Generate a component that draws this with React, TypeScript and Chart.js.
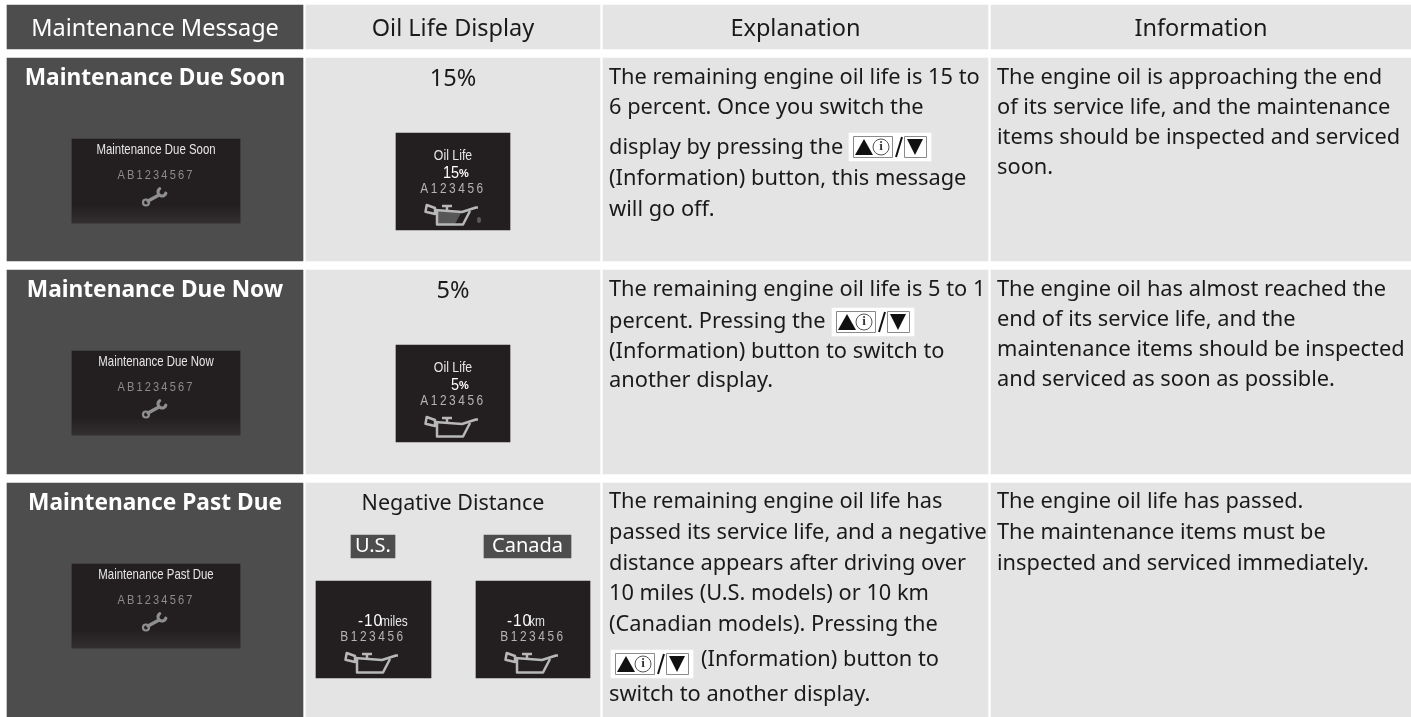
import React, { useEffect, useRef } from "react";
import { Chart, registerables } from "chart.js";

Chart.register(...registerables);

// ---- content ----
const headers = ["Maintenance Message", "Oil Life Display", "Explanation", "Information"];
const messages = ["Maintenance Due Soon", "Maintenance Due Now", "Maintenance Past Due"];
const oilDisplays = ["15%", "5%", "Negative Distance"];
const screenCode = "AB1234567";
const regionTags = ["U.S.", "Canada"];
const oilLifeTitle = "Oil Life";
const oilValues = ["15", "5"];
const negativeReadings = [["-10", "miles"], ["-10", "km"]];
const oilCodes = ["A123456", "A123456", "B123456", "B123456"];
const explanationLines = [
  ["The remaining engine oil life is 15 to", "6 percent. Once you switch the", "display by pressing the", "(Information) button, this message", "will go off."],
  ["The remaining engine oil life is 5 to 1", "percent. Pressing the", "(Information) button to switch to", "another display."],
  ["The remaining engine oil life has", "passed its service life, and a negative", "distance appears after driving over", "10 miles (U.S. models) or 10 km", "(Canadian models). Pressing the", "(Information) button to", "switch to another display."],
];
const informationLines = [
  ["The engine oil is approaching the end", "of its service life, and the maintenance", "items should be inspected and serviced", "soon."],
  ["The engine oil has almost reached the", "end of its service life, and the", "maintenance items should be inspected", "and serviced as soon as possible."],
  ["The engine oil life has passed.", "The maintenance items must be", "inspected and serviced immediately."],
];

// ---- layout (page pixels, read through the scales) ----
const W = 1411, H = 717;
const columns: [number, number][] = [[7, 303], [306, 600], [603, 988], [991, 1411]];
const rows: [number, number][] = [[5, 49], [58, 261], [270, 474], [483, 717]];
const explanationY = [[78, 108, 148, 179, 210], [290, 322, 352, 381], [502, 533, 564, 594, 625, 660, 695]];
const informationY = [[78, 108, 138, 168], [290, 320, 350, 380], [502, 533, 564]];
const messageScreens: [number, number][] = [[139, 223], [351, 435], [564, 648]];
const oilScreens: [number, number, number, number][] = [[396, 510, 133, 230], [396, 510, 345, 442], [316, 431, 581, 678], [476, 590, 581, 678]];
const tagBoxes: [number, number, number, number][] = [[351, 395, 535, 558], [484, 571, 535, 558]];
const buttons: [number, number][] = [[849, 133], [832, 308], [611, 650]];
const negativeOffsets = [[42, 64], [31, 53]];
const BTN_W = 82, BTN_H = 28;

const DARK = "#4d4d4d", LIGHT = "#e4e4e4", SCREEN = "#231f20";
const BODY_FONT = '"Noto Sans"';
const SCREEN_FONT = '"Liberation Sans"';

function rectSet(x0: number, x1: number, spans: [number, number][], color: string, order: number) {
  return {
    type: "bar" as const,
    data: spans.map((s) => ({ x: (x0 + x1) / 2, y: s })),
    backgroundColor: color,
    barThickness: x1 - x0,
    grouped: false,
    borderWidth: 0,
    order,
  };
}

const overlay = {
  id: "tableOverlay",
  afterDatasetsDraw(chart: any) {
    const ctx: CanvasRenderingContext2D = chart.ctx;
    const X = (v: number) => chart.scales.x.getPixelForValue(v);
    const Y = (v: number) => chart.scales.y.getPixelForValue(v);
    const text = (s: string, x: number, y: number, font: string, color: string, align: CanvasTextAlign = "left", spacing = "0px", squeeze = 1) => {
      ctx.font = font;
      ctx.fillStyle = color;
      ctx.textAlign = align;
      ctx.textBaseline = "middle";
      (ctx as any).letterSpacing = spacing;
      if (squeeze < 1) ctx.fillText(s, X(x), Y(y), ctx.measureText(s).width * squeeze);
      else ctx.fillText(s, X(x), Y(y));
      (ctx as any).letterSpacing = "0px";
    };
    const poly = (pts: number[][], ox: number, oy: number, close: boolean) => {
      ctx.beginPath();
      pts.forEach((p, i) => (i ? ctx.lineTo(X(ox + p[0]), Y(oy + p[1])) : ctx.moveTo(X(ox + p[0]), Y(oy + p[1]))));
      if (close) ctx.closePath();
    };
    ctx.save();

    // headers
    headers.forEach((h, i) => {
      const [a, b] = columns[i];
      text(h, (a + b) / 2, 29, `23.5px ${BODY_FONT}`, i === 0 ? "#ffffff" : "#1a1a1a", "center");
    });

    // message column
    messages.forEach((m, i) => {
      text(m, 155, rows[i + 1][0] + 21, `bold 22.7px ${BODY_FONT}`, "#ffffff", "center");
      const [t, b] = messageScreens[i];
      const g = ctx.createLinearGradient(0, Y(b - 18), 0, Y(b));
      g.addColorStop(0, "rgba(255,255,255,0)");
      g.addColorStop(1, "rgba(255,255,255,0.07)");
      ctx.fillStyle = g;
      ctx.fillRect(X(72), Y(b - 18), X(240) - X(72), Y(b) - Y(b - 18));
      text(m, 156, t + 11, `15px ${SCREEN_FONT}`, "#e6e6e6", "center", "0px", 0.76);
      text(screenCode, 156, t + 36, `13px ${SCREEN_FONT}`, "#8c8c8c", "center", "2.5px", 0.85);
      // wrench
      ctx.strokeStyle = "#8f8f8f";
      ctx.lineCap = "round";
      ctx.lineWidth = 3.4;
      ctx.beginPath();
      ctx.moveTo(X(148), Y(t + 62));
      ctx.lineTo(X(159), Y(t + 56));
      ctx.stroke();
      ctx.lineWidth = 2.2;
      ctx.beginPath();
      ctx.arc(X(146), Y(t + 63.5), 3, 0, Math.PI * 2);
      ctx.stroke();
      ctx.lineWidth = 3.2;
      ctx.beginPath();
      ctx.arc(X(162), Y(t + 53), 4, 0.1 * Math.PI, 1.3 * Math.PI);
      ctx.stroke();
      ctx.lineCap = "butt";
    });

    // oil column
    oilDisplays.forEach((d, i) => {
      text(d, 453, rows[i + 1][0] + 21, `${i < 2 ? 23.5 : 21.5}px ${BODY_FONT}`, "#1a1a1a", "center");
    });
    regionTags.forEach((t, i) => {
      const [a, b, c, e] = tagBoxes[i];
      text(t, (a + b) / 2, (c + e) / 2, `20px ${BODY_FONT}`, "#ffffff", "center");
    });
    oilScreens.forEach(([a, , t], i) => {
      if (i < 2) {
        text(oilLifeTitle, a + 57, t + 23, `15px ${SCREEN_FONT}`, "#e6e6e6", "center", "0px", 0.82);
        text(oilValues[i], a + 63, t + 40, `17px ${SCREEN_FONT}`, "#ffffff", "right", "0px", 0.85);
        text("%", a + 63, t + 41, `bold 11px ${SCREEN_FONT}`, "#ffffff", "left");
      } else {
        const [n, u] = negativeReadings[i - 2];
        const [nx, ux] = negativeOffsets[i - 2];
        text(n, a + nx, t + 40, `17px ${SCREEN_FONT}`, "#ffffff", "left", "1px", 0.9);
        text(u, a + ux, t + 41, `14px ${SCREEN_FONT}`, "#e6e6e6", "left", "0px", 0.85);
      }
      text(oilCodes[i], a + 57, t + 56, `14px ${SCREEN_FONT}`, "#b4b4b4", "center", "3px", 0.85);
      // oil can
      const ox = a + 19, oy = t + 62;
      if (i === 0) {
        ctx.fillStyle = "#575757";
        poly([[22, 16], [47, 16], [40, 29], [22, 29]], ox, oy, true);
        ctx.fill();
        ctx.fillStyle = "#5a5a5a";
        ctx.beginPath();
        ctx.ellipse(X(ox + 64), Y(oy + 25), 2, 3, 0, 0, Math.PI * 2);
        ctx.fill();
      }
      ctx.strokeStyle = "#b8b8b8";
      ctx.lineWidth = 2.5;
      ctx.lineJoin = "round";
      poly([[11.7, 10], [20, 13], [20, 19], [10.5, 16.7]], ox, oy, true);
      ctx.stroke();
      poly([[27, 11], [37, 11]], ox, oy, false);
      ctx.stroke();
      poly([[32, 11], [32, 15]], ox, oy, false);
      ctx.stroke();
      poly([[20, 15], [47, 17], [61, 12.5], [63, 12.5]], ox, oy, false);
      ctx.stroke();
      poly([[22, 16], [22, 29.5], [48, 29.5], [55, 16]], ox, oy, false);
      ctx.stroke();
    });

    // explanation and information text
    const body = `21.8px ${BODY_FONT}`;
    explanationLines.forEach((ls, r) =>
      ls.forEach((l, j) => text(l, r === 2 && j === 5 ? 701 : 609, explanationY[r][j], body, "#1a1a1a"))
    );
    informationLines.forEach((ls, r) =>
      ls.forEach((l, j) => text(l, 997, informationY[r][j], body, "#1a1a1a"))
    );
    // inline button symbols (white plate is a bar)
    buttons.forEach(([bx, by]) => {
      ctx.strokeStyle = "#8a8a8a";
      ctx.lineWidth = 1;
      ctx.strokeRect(X(bx + 4) + 0.5, Y(by + 3) + 0.5, 39, 21);
      ctx.strokeRect(X(bx + 55) + 0.5, Y(by + 3) + 0.5, 22, 21);
      ctx.fillStyle = "#111111";
      poly([[15, 6], [24, 22], [6, 22]], bx, by, true);
      ctx.fill();
      poly([[58, 6], [74, 6], [66, 22]], bx, by, true);
      ctx.fill();
      ctx.strokeStyle = "#555555";
      ctx.beginPath();
      ctx.arc(X(bx + 32), Y(by + 14), 8, 0, Math.PI * 2);
      ctx.stroke();
      text("i", bx + 32, by + 14, `bold 13px "Liberation Serif"`, "#333333", "center");
      ctx.strokeStyle = "#111111";
      ctx.lineWidth = 2;
      poly([[53, 4], [47, 24]], bx, by, false);
      ctx.stroke();
    });
    ctx.restore();
  },
};

export default function App() {
  const ref = useRef<HTMLCanvasElement>(null);
  useEffect(() => {
    document.body.style.margin = "0";
    const cells = columns.map(([a, b], i) => rectSet(a, b, rows, i === 0 ? DARK : LIGHT, 5));
    const screens = [
      rectSet(72, 240, messageScreens, SCREEN, 4),
      ...oilScreens.map(([a, b, c, d]) => rectSet(a, b, [[c, d]], SCREEN, 4)),
      ...tagBoxes.map(([a, b, c, d]) => rectSet(a, b, [[c, d]], DARK, 4)),
      ...buttons.map(([x, y]) => rectSet(x, x + BTN_W, [[y, y + BTN_H]], "#ffffff", 4)),
    ];
    const chart = new Chart(ref.current!, {
      type: "bar",
      data: { datasets: [...cells, ...screens] as any },
      options: {
        animation: false,
        responsive: false,
        layout: { padding: 0 },
        plugins: { legend: { display: false }, tooltip: { enabled: false }, title: { display: false } },
        scales: {
          x: { type: "linear", display: false, min: 0, max: W, offset: false },
          y: { type: "linear", display: false, min: 0, max: H, reverse: true },
        },
      },
      plugins: [overlay],
    } as any);
    return () => chart.destroy();
  }, []);
  return <canvas ref={ref} width={W} height={H} style={{ display: "block" }} />;
}
